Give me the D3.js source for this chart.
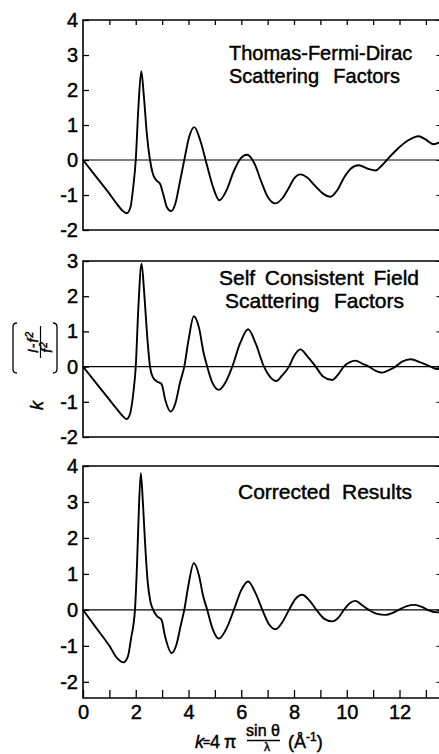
<!DOCTYPE html>
<html>
<head>
<meta charset="utf-8">
<script src="https://cdn.jsdelivr.net/npm/d3@7"></script>
<style>
  body { margin: 0; background: #fff; }
  svg { display: block; font-family: "Liberation Sans", Arial, sans-serif; }
  .ink { stroke: #000; stroke-width: 0.45px; fill: #000; }
</style>
</head>
<body>
<script>
// k values vs k*(I - f^2)/f^2
const tfd = [[0,0],[0.5,-0.48],[1.0,-0.96],[1.3,-1.27],[1.5,-1.45],[1.66,-1.52],[1.8,-1.35],[1.9,-0.8],[2.0,0],[2.1,1.5],[2.21,2.54],[2.31,1.8],[2.42,0.75],[2.54,0],[2.65,-0.4],[2.78,-0.58],[2.92,-0.68],[3.05,-1.0],[3.18,-1.35],[3.34,-1.46],[3.5,-1.25],[3.68,-0.6],[3.84,0],[4.02,0.65],[4.22,0.94],[4.45,0.55],[4.7,-0.15],[4.92,-0.75],[5.17,-1.15],[5.45,-0.85],[5.7,-0.35],[5.95,0.02],[6.22,0.15],[6.5,-0.1],[6.75,-0.6],[7.0,-1.05],[7.3,-1.24],[7.55,-1.1],[7.8,-0.8],[8.0,-0.53],[8.24,-0.41],[8.5,-0.5],[8.8,-0.74],[9.1,-0.96],[9.38,-1.05],[9.65,-0.85],[9.9,-0.5],[10.15,-0.25],[10.45,-0.15],[10.8,-0.25],[11.1,-0.3],[11.3,-0.18],[11.52,0],[11.9,0.3],[12.3,0.55],[12.73,0.68],[13.0,0.58],[13.3,0.45],[13.55,0.52]];

const scf = [[0,0],[0.5,-0.47],[1.0,-0.94],[1.3,-1.22],[1.5,-1.4],[1.65,-1.49],[1.78,-1.35],[1.9,-0.8],[2.0,0],[2.1,1.7],[2.22,2.92],[2.32,2.1],[2.43,0.9],[2.54,0],[2.65,-0.3],[2.8,-0.42],[2.98,-0.5],[3.12,-0.95],[3.32,-1.28],[3.5,-1.05],[3.68,-0.45],[3.84,0],[4.0,0.75],[4.2,1.43],[4.4,1.1],[4.57,0.4],[4.71,0],[4.9,-0.45],[5.15,-0.66],[5.4,-0.45],[5.66,0],[5.95,0.65],[6.26,1.06],[6.55,0.65],[6.86,0],[7.1,-0.3],[7.33,-0.41],[7.55,-0.25],[7.81,0],[8.0,0.3],[8.24,0.49],[8.5,0.3],[8.82,0],[9.1,-0.28],[9.45,-0.38],[9.7,-0.2],[9.89,0],[10.1,0.12],[10.33,0.17],[10.6,0.08],[10.84,0],[11.1,-0.12],[11.35,-0.17],[11.6,-0.1],[11.85,0],[12.1,0.14],[12.42,0.21],[12.8,0.12],[13.18,0],[13.43,-0.07],[13.55,-0.05]];

const corrected = [[0,0],[0.5,-0.5],[1.0,-1.0],[1.3,-1.35],[1.53,-1.46],[1.7,-1.3],[1.82,-0.8],[1.97,0],[2.04,1.1],[2.1,2.4],[2.19,3.8],[2.27,3.0],[2.35,1.9],[2.45,0.8],[2.55,0.25],[2.66,0],[2.8,-0.17],[2.98,-0.28],[3.1,-0.7],[3.36,-1.2],[3.55,-0.95],[3.7,-0.45],[3.84,0],[4.0,0.7],[4.2,1.3],[4.4,0.95],[4.55,0.4],[4.71,0],[4.9,-0.5],[5.15,-0.8],[5.45,-0.5],[5.72,0],[6.0,0.55],[6.26,0.79],[6.55,0.45],[6.8,0],[7.05,-0.4],[7.3,-0.54],[7.55,-0.35],[7.81,0],[8.05,0.3],[8.31,0.42],[8.6,0.25],[8.85,0],[9.15,-0.25],[9.45,-0.32],[9.7,-0.2],[9.89,0],[10.1,0.18],[10.33,0.25],[10.6,0.12],[10.84,0],[11.15,-0.11],[11.47,-0.14],[11.75,-0.08],[11.97,0],[12.25,0.1],[12.58,0.14],[12.85,0.08],[13.06,0],[13.43,-0.07],[13.55,-0.06]];

const xTickLabels = [0, 2, 4, 6, 8, 10, 12];
const yTicksTop = [-2, -1, 0, 1, 2, 3, 4];
const yTicksMid = [-2, -1, 0, 1, 2, 3];
const yTicksBot = [-2, -1, 0, 1, 2, 3, 4];
const titleTop = ["Thomas-Fermi-Dirac", "Scattering Factors"];
const titleMid = ["Self Consistent Field", "Scattering Factors"];
const titleBot = ["Corrected Results"];

const W = 439, H = 754;
const svg = d3.select("body").append("svg")
  .attr("width", W).attr("height", H);

const x = d3.scaleLinear().domain([0, 13.55]).range([83, 440.4]);
const kInts = d3.range(0, 14);

// layout of the three stacked panels
const panels = [
  {data: tfd, domain: [-2, 4], range: [230, 20], ticks: yTicksTop, title: titleTop, fs: 20,
   lines: [{x: 229, y: 60, w: 194}, {x: 229, y: 82.5, w: 171}], topTicks: true},
  {data: scf, domain: [-2, 3], range: [437, 261], ticks: yTicksMid, title: titleMid, fs: 21,
   lines: [{x: 219, y: 285, w: 200}, {x: 225, y: 308, w: 179}]},
  {data: corrected, domain: [-2.45, 4], range: [698, 466], ticks: yTicksBot, title: titleBot, fs: 21,
   lines: [{x: 238, y: 499, w: 174}], bottomAxis: true}
];

panels.forEach(p => {
  const y = d3.scaleLinear().domain(p.domain).range(p.range);
  const g = svg.append("g");
  const top = p.range[1], bot = p.range[0];

  // frame: left, top, bottom
  g.append("path")
    .attr("d", `M${x.range()[1]},${top}H${x.range()[0]}V${bot}H${x.range()[1]}`)
    .attr("fill", "none").attr("stroke", "#000").attr("stroke-width", 1.6);

  // zero line
  g.append("line")
    .attr("x1", x(0)).attr("x2", x.range()[1])
    .attr("y1", y(0)).attr("y2", y(0))
    .attr("stroke", "#000").attr("stroke-width", 1.1);

  const yAxis = d3.axisLeft(y).tickValues(p.ticks)
    .tickSize(-6).tickPadding(5)
    .tickFormat(d => String(d));
  const ya = g.append("g").attr("transform", `translate(${x(0)},0)`).call(yAxis);
  ya.select(".domain").remove();
  ya.selectAll("line").attr("stroke-width", 1.3);
  ya.selectAll("text").attr("font-size", 20).attr("class", "ink");

  // small inward ticks on the right edge
  const ra = g.append("g").attr("transform", `translate(${x.range()[1] - 1},0)`)
    .call(d3.axisRight(y).tickValues(p.ticks).tickSize(-3).tickFormat(""));
  ra.select(".domain").remove();

  if (p.topTicks) {
    const ta = g.append("g").attr("transform", `translate(0,${top})`)
      .call(d3.axisTop(x).tickValues(kInts.slice(1)).tickSize(-5).tickFormat(""));
    ta.select(".domain").remove();
    ta.selectAll("line").attr("stroke-width", 1.3);
  }

  if (p.bottomAxis) {
    const ba = g.append("g").attr("transform", `translate(0,${bot})`)
      .call(d3.axisBottom(x).tickValues(kInts).tickSize(-8).tickPadding(7)
        .tickFormat(d => xTickLabels.includes(d) ? String(d) : ""));
    ba.select(".domain").remove();
    ba.selectAll("line").attr("stroke-width", 1.3);
    ba.selectAll("text").attr("font-size", 20).attr("class", "ink");
  }

  const line = d3.line()
    .x(d => x(d[0])).y(d => y(d[1]))
    .curve(d3.curveMonotoneX);
  g.append("path")
    .datum(p.data)
    .attr("d", line)
    .attr("fill", "none").attr("stroke", "#000")
    .attr("stroke-width", 1.9).attr("stroke-linejoin", "round");

  // title block: one text, one tspan per line, words spread to the printed width
  const txt = g.append("text").attr("font-size", p.fs).attr("class", "ink");
  p.title.forEach((t, i) => {
    const pos = p.lines[i];
    const ts = txt.append("tspan").attr("x", pos.x).attr("y", pos.y).text(t);
    const nat = ts.node().getComputedTextLength();
    const gaps = t.split(" ").length - 1;
    if (gaps > 0 && pos.w > nat) ts.attr("word-spacing", (pos.w - nat) / gaps);
  });
});

// y axis label, rotated: k { (I-f^2) / f^2 }
const yl = svg.append("g").attr("transform", "translate(35,366) rotate(-90)");
yl.append("text").attr("x", -44).attr("y", 8).attr("class", "ink")
  .attr("font-size", 18).attr("font-style", "italic").text("k");
const brace = (yy, dir) => `M-7,${yy + 4 * dir}Q-7,${yy} -3,${yy}H39Q43,${yy} 43,${yy + 4 * dir}`;
yl.append("path").attr("d", brace(-22, 1)).attr("fill", "none").attr("stroke", "#000").attr("stroke-width", 1.3);
yl.append("path").attr("d", brace(22, -1)).attr("fill", "none").attr("stroke", "#000").attr("stroke-width", 1.3);
const num = yl.append("text").attr("x", 24).attr("y", 3).attr("class", "ink")
  .attr("font-size", 14).attr("font-style", "italic").attr("letter-spacing", 1)
  .attr("text-anchor", "middle");
num.append("tspan").text("I-f");
num.append("tspan").attr("font-size", 10).attr("dy", -5).text("2");
yl.append("line").attr("x1", 8).attr("x2", 40).attr("y1", 5.5).attr("y2", 5.5)
  .attr("stroke", "#000").attr("stroke-width", 1.2);
const den = yl.append("text").attr("x", 19).attr("y", 17).attr("class", "ink")
  .attr("font-size", 14).attr("font-style", "italic").attr("letter-spacing", 1)
  .attr("text-anchor", "middle");
den.append("tspan").text("f");
den.append("tspan").attr("font-size", 10).attr("dy", -5).text("2");

// x axis label: k = 4π sinθ/λ (Å^-1)
const xl = svg.append("g");
xl.append("text").attr("x", 195).attr("y", 748).attr("font-size", 18).attr("class", "ink")
  .attr("font-style", "italic").text("k");
xl.append("text").attr("x", 203).attr("y", 746).attr("font-size", 12).attr("class", "ink").text("=");
xl.append("text").attr("x", 210).attr("y", 748).attr("font-size", 18).attr("class", "ink").text("4");
xl.append("text").attr("x", 224).attr("y", 748).attr("font-size", 18).attr("class", "ink").text("π");
xl.append("text").attr("x", 263).attr("y", 736).attr("font-size", 16).attr("class", "ink")
  .attr("text-anchor", "middle").text("sin θ");
xl.append("line").attr("x1", 247).attr("x2", 280).attr("y1", 740.5).attr("y2", 740.5)
  .attr("stroke", "#000").attr("stroke-width", 1.4);
xl.append("text").attr("x", 267).attr("y", 751).attr("font-size", 12).attr("class", "ink")
  .attr("text-anchor", "middle").text("λ");
const unit = xl.append("text").attr("x", 288).attr("y", 748).attr("font-size", 18).attr("class", "ink");
unit.append("tspan").text("(Å");
unit.append("tspan").attr("font-size", 12).attr("dy", -7).text("-1");
unit.append("tspan").attr("dy", 7).text(")");
</script>
</body>
</html>
